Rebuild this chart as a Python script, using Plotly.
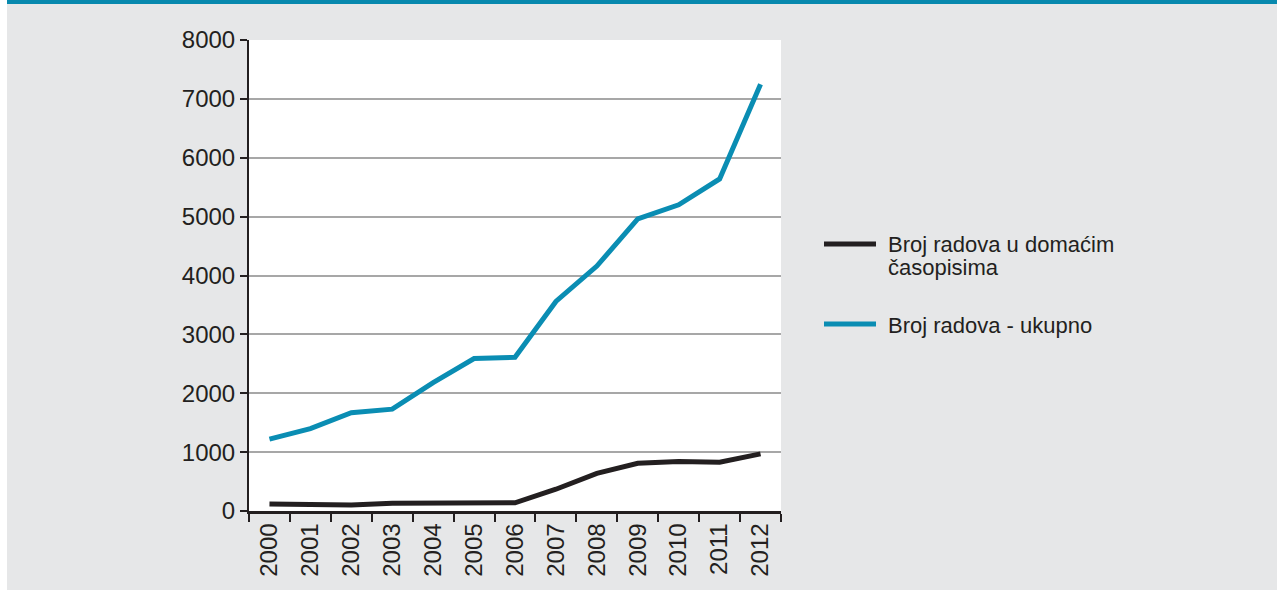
import plotly.graph_objects as go

years = ["2000", "2001", "2002", "2003", "2004", "2005", "2006",
         "2007", "2008", "2009", "2010", "2011", "2012"]
domaci = [120, 100, 100, 130, 130, 150, 140, 370, 640, 810, 840, 830, 970]
ukupno = [1220, 1400, 1670, 1730, 2180, 2590, 2610, 3560, 4160, 4960, 5200, 5640, 7250]

name_domaci_1 = "Broj radova u domaćim"
name_domaci_2 = "časopisima"
name_ukupno = "Broj radova - ukupno"

BLACK = "#231f20"
BLUE = "#0a8db3"
BG = "#e6e7e8"
FONT = "Liberation Sans, Arial, sans-serif"

W, H = 1277, 592
L, R, T, B = 249, 496, 40, 81
pw = W - L - R
ph = H - T - B

def px(x):
    return (x - L) / pw

def py(y):
    return (H - B - y) / ph

fig = go.Figure()
fig.add_trace(go.Scatter(x=years, y=domaci, mode="lines", name=name_domaci_1 + " " + name_domaci_2,
                         line=dict(color=BLACK, width=5)))
fig.add_trace(go.Scatter(x=years, y=ukupno, mode="lines", name=name_ukupno,
                         line=dict(color=BLUE, width=5)))

shapes = [
    # white strips at left and bottom edges
    dict(type="rect", xref="paper", yref="paper", x0=px(0), x1=px(7), y0=py(H), y1=py(0),
         fillcolor="white", line=dict(width=0), layer="above"),
    dict(type="rect", xref="paper", yref="paper", x0=px(0), x1=px(W), y0=py(H), y1=py(590),
         fillcolor="white", line=dict(width=0), layer="above"),
    # teal band at top
    dict(type="rect", xref="paper", yref="paper", x0=px(7), x1=px(W), y0=py(4), y1=py(0),
         fillcolor="#0789ae", line=dict(width=0), layer="above"),
    # legend lines
    dict(type="line", xref="paper", yref="paper", x0=px(824), x1=px(876), y0=py(244), y1=py(244),
         line=dict(color=BLACK, width=5)),
    dict(type="line", xref="paper", yref="paper", x0=px(824), x1=px(876), y0=py(324), y1=py(324),
         line=dict(color=BLUE, width=5)),
]

LF = 22
annotations = [
    dict(text=name_domaci_1, xref="paper", yref="paper", x=px(886), y=py(244),
         xanchor="left", yanchor="middle", showarrow=False, font=dict(size=LF, color=BLACK, family=FONT)),
    dict(text=name_domaci_2, xref="paper", yref="paper", x=px(886), y=py(267),
         xanchor="left", yanchor="middle", showarrow=False, font=dict(size=LF, color=BLACK, family=FONT)),
    dict(text=name_ukupno, xref="paper", yref="paper", x=px(886), y=py(325),
         xanchor="left", yanchor="middle", showarrow=False, font=dict(size=LF, color=BLACK, family=FONT)),
]

TF = 24
fig.update_layout(
    width=W, height=H,
    margin=dict(l=L, r=R, t=T, b=B, pad=0),
    paper_bgcolor=BG, plot_bgcolor="white",
    showlegend=False,
    shapes=shapes, annotations=annotations,
    font=dict(family=FONT, size=TF, color=BLACK),
    xaxis=dict(type="category", range=[-0.5, 12.5], tickson="boundaries", ticks="outside",
               ticklen=8, tickwidth=2, tickcolor=BLACK, showline=True, linecolor=BLACK,
               linewidth=2.5, showgrid=False, tickangle=-90,
               tickfont=dict(size=TF, color=BLACK), fixedrange=True),
    yaxis=dict(range=[0, 8000], dtick=1000, ticks="outside", ticklen=7, tickwidth=2,
               tickcolor=BLACK, showline=True, linecolor=BLACK, linewidth=2,
               showgrid=True, gridcolor="#a7a7a7", gridwidth=1.5, zeroline=False,
               tickfont=dict(size=TF, color=BLACK), fixedrange=True),
)

fig.write_html("out.html")
